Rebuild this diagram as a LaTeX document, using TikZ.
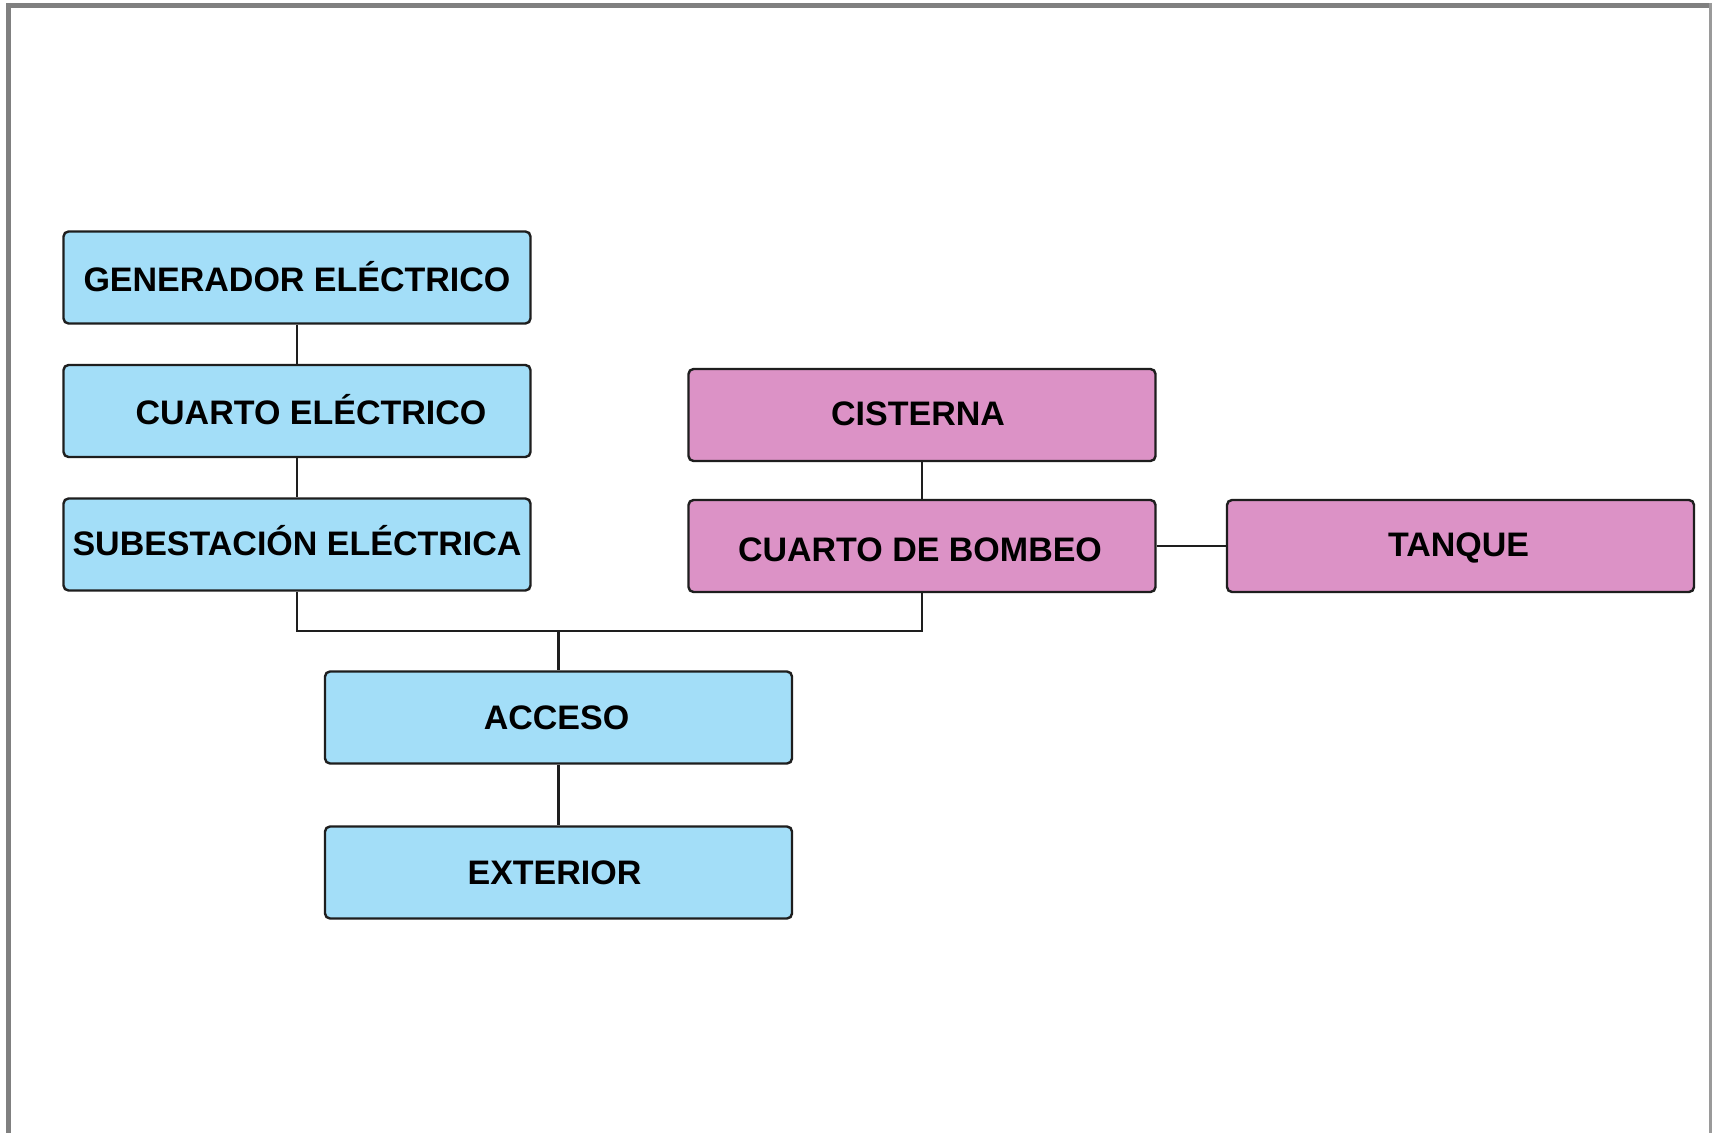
\documentclass[tikz,border=0pt]{standalone}
\usepackage{fontspec}
\setmainfont{Liberation Sans}
\definecolor{boxblue}{RGB}{163,222,248}
\definecolor{boxpink}{RGB}{220,146,198}
\definecolor{framegray}{RGB}{128,128,128}
\definecolor{edgeblack}{RGB}{30,30,30}
\begin{document}
\begin{tikzpicture}[x=0.5pt,y=-0.5pt,
  box/.style={draw=edgeblack, line width=1.2pt, rounded corners=2.5pt,
    minimum width=233.5pt, minimum height=46pt, inner sep=0pt},
  bluebox/.style={box, fill=boxblue},
  pinkbox/.style={box, fill=boxpink},
  lbl/.style={font=\bfseries\fontsize{17}{20}\selectfont, inner sep=0pt,
    text height=12.2pt, text depth=0pt},
  link/.style={draw=edgeblack, line width=1.1pt}]
\useasboundingbox (0,0) rectangle (1712,1133);
\fill[white] (0,0) rectangle (1712,1133);
% page frame
\draw[framegray, line width=2.5pt] (6,5.5) -- (1712,5.5);
\draw[framegray, line width=2.5pt] (8,3) -- (8,1133);
\draw[framegray!80, line width=1.2pt] (1710.5,3) -- (1710.5,1133);

% boxes
\node[bluebox] (gen)    at (297,277.5) {};
\node[bluebox] (cuarto) at (297,411)   {};
\node[bluebox] (sub)    at (297,544.5) {};
\node[pinkbox] (cist)   at (922,415)   {};
\node[pinkbox] (bomb)   at (922,546)   {};
\node[pinkbox] (tanq)   at (1460.5,546) {};
\node[bluebox] (acc)    at (558.5,717.5) {};
\node[bluebox] (ext)    at (558.5,872.5) {};

% labels
\node[lbl] (genT)    at ([shift={(0,2)}]gen.center)    {GENERADOR ELÉCTRICO};
\node[lbl] (cuartoT) at ([shift={(14,1)}]cuarto.center) {CUARTO ELÉCTRICO};
\node[lbl] (subT)    at ([shift={(0,-1)}]sub.center)   {SUBESTACIÓN ELÉCTRICA};
\node[lbl] (cistT)   at ([shift={(-4,-2)}]cist.center) {CISTERNA};
\node[lbl] (bombT)   at ([shift={(-2,3)}]bomb.center)  {CUARTO DE BOMBEO};
\node[lbl] (tanqT)   at ([shift={(-2,-2)}]tanq.center) {TANQUE};
\node[lbl] (accT)    at ([shift={(-2,0)}]acc.center)   {ACCESO};
\node[lbl] (extT)    at ([shift={(-4,0)}]ext.center)  {EXTERIOR};

% connectors
\coordinate (bus) at (558.5,631);
\draw[link] (gen.south) -- (cuarto.north);
\draw[link] (cuarto.south) -- (sub.north);
\draw[link] (cist.south) -- (bomb.north);
\draw[link] (bomb.east) -- (tanq.west);
\draw[link] (sub.south) |- (bus) -| (bomb.south);
\draw[link] (bus) -- (acc.north);
\draw[link] (acc.south) -- (ext.north);
\end{tikzpicture}
\end{document}
